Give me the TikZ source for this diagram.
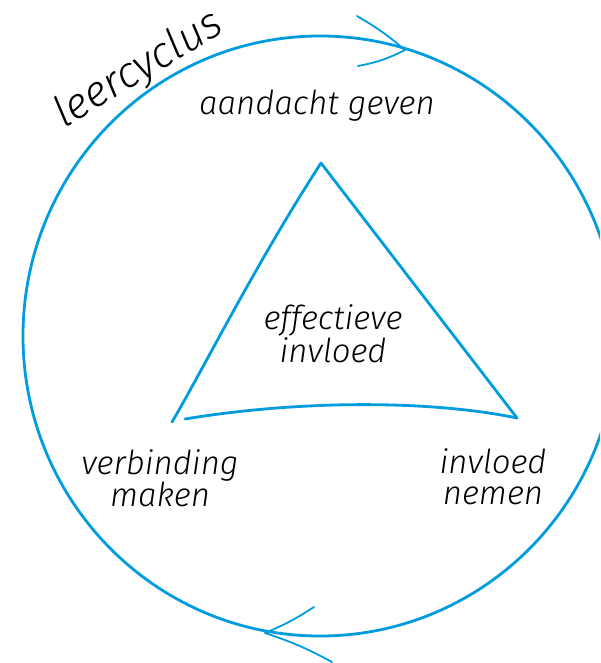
\documentclass[tikz,border=0pt]{standalone}
\usepackage{fontspec}
\newfontfamily\hand{Fira Sans Light Italic}
\definecolor{cycblue}{RGB}{0,156,222}
\tikzset{
  cyc/.style={draw=cycblue, line width=2.8pt, line cap=round, line join=round},
  thin cyc/.style={draw=cycblue, line width=1.8pt, line cap=round},
  lbl/.style={font=\hand\fontsize{33}{31}\selectfont, text=black, align=center, inner sep=0pt},
}
\begin{document}
\begin{tikzpicture}[x=1pt, y=-1pt]
\useasboundingbox (0,0) rectangle (600,663);
\clip (0,0) rectangle (600,663);
% cycle
\draw[cyc] (320,336) ellipse [x radius=297, y radius=300];
% arrowheads
\coordinate (tA) at (405,50);
\coordinate (tB1) at (357,16);
\coordinate (tB2) at (358,66);
\draw[thin cyc] (tB1) to[bend left=5] (tA);
\draw[thin cyc] (tB2) to[bend right=8] (tA);
\coordinate (bA) at (265,633);
\coordinate (bB1) at (314,607);
\coordinate (bB2) at (332,662);
\draw[thin cyc] (bB1) to[bend left=5] (bA);
\draw[thin cyc] (bB2) to[bend right=5] (bA);
% triangle
\coordinate (top) at (321,163);
\coordinate (bl) at (172,422);
\coordinate (br) at (517,418);
\draw[cyc] (bl) .. controls (200,375) and (255,265) .. (top) -- (br);
\draw[cyc] (br) .. controls (430,400) and (300,400) .. (185,419);
% labels
\node[lbl, font=\hand\fontsize{43}{45}\selectfont, rotate=31] (cyc) at (139,70) {leercyclus};
\node[lbl] (att) at (317,106) {aandacht geven};
\node[lbl] (eff) at (333,334) {effectieve\\invloed};
\node[lbl] (ver) at (160,478) {verbinding\\maken};
\node[lbl] (inv) at (493,477) {invloed\\nemen};
\end{tikzpicture}
\end{document}
